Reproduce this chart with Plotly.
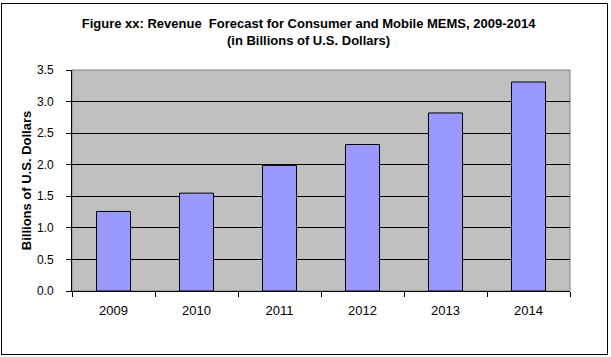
import plotly.graph_objects as go

years = ["2009", "2010", "2011", "2012", "2013", "2014"]
revenue = [1.26, 1.55, 1.99, 2.32, 2.82, 3.31]
y_ticks = [0.0, 0.5, 1.0, 1.5, 2.0, 2.5, 3.0, 3.5]

W, H = 611, 357
ML, MR, MT, MB = 72, 41, 70, 66

fig = go.Figure()
fig.add_trace(go.Bar(
    x=years, y=revenue,
    marker=dict(color="#9999FF", line=dict(color="black", width=1)),
    hoverinfo="x+y",
))

fig.update_layout(
    width=W, height=H,
    margin=dict(l=ML, r=MR, t=MT, b=MB, autoexpand=False),
    paper_bgcolor="white",
    plot_bgcolor="#C0C0C0",
    bargap=0.59,
    showlegend=False,
    font=dict(family="Liberation Sans, Arial, sans-serif", size=12, color="black"),
    title=dict(
        text="<b>Figure xx: Revenue  Forecast for Consumer and Mobile MEMS, 2009-2014<br>(in Billions of U.S. Dollars)</b>",
        x=0.505, xanchor="center", y=1 - 28 / H, yanchor="middle",
        font=dict(size=13, color="black"),
    ),
    xaxis=dict(
        type="category",
        showline=True, linecolor="black", linewidth=1,
        ticks="outside", ticklen=5, tickcolor="black", tickson="boundaries",
        showgrid=False,
        tickfont=dict(size=13),
        ticklabelstandoff=7,
    ),
    yaxis=dict(
        range=[0, 3.5],
        tickvals=y_ticks,
        tickformat=".1f",
        showline=True, linecolor="black", linewidth=1,
        ticks="outside", ticklen=5, tickcolor="black",
        showgrid=True, gridcolor="black", gridwidth=1,
        zeroline=False,
        tickfont=dict(size=12),
        ticklabelstandoff=10,
        title=dict(text="<b>Billions of U.S. Dollars</b>", font=dict(size=13), standoff=2),
    ),
    shapes=[
        dict(type="rect", xref="x domain", yref="y domain", x0=0, x1=1, y0=0, y1=1,
             line=dict(color="#808080", width=1), layer="below"),
    ],
)

post = (
    "document.body.style.margin='0';"
    "var d=document.getElementById('{plot_id}');"
    "d.style.position='relative';"
    "var b=document.createElement('div');"
    "b.style.cssText='position:absolute;left:1px;top:3px;width:607px;height:352px;"
    "border:1px solid black;box-sizing:border-box;z-index:1000;pointer-events:none;';"
    "d.appendChild(b);"
)
fig.write_html("out.html", config={"displayModeBar": False}, post_script=post)
